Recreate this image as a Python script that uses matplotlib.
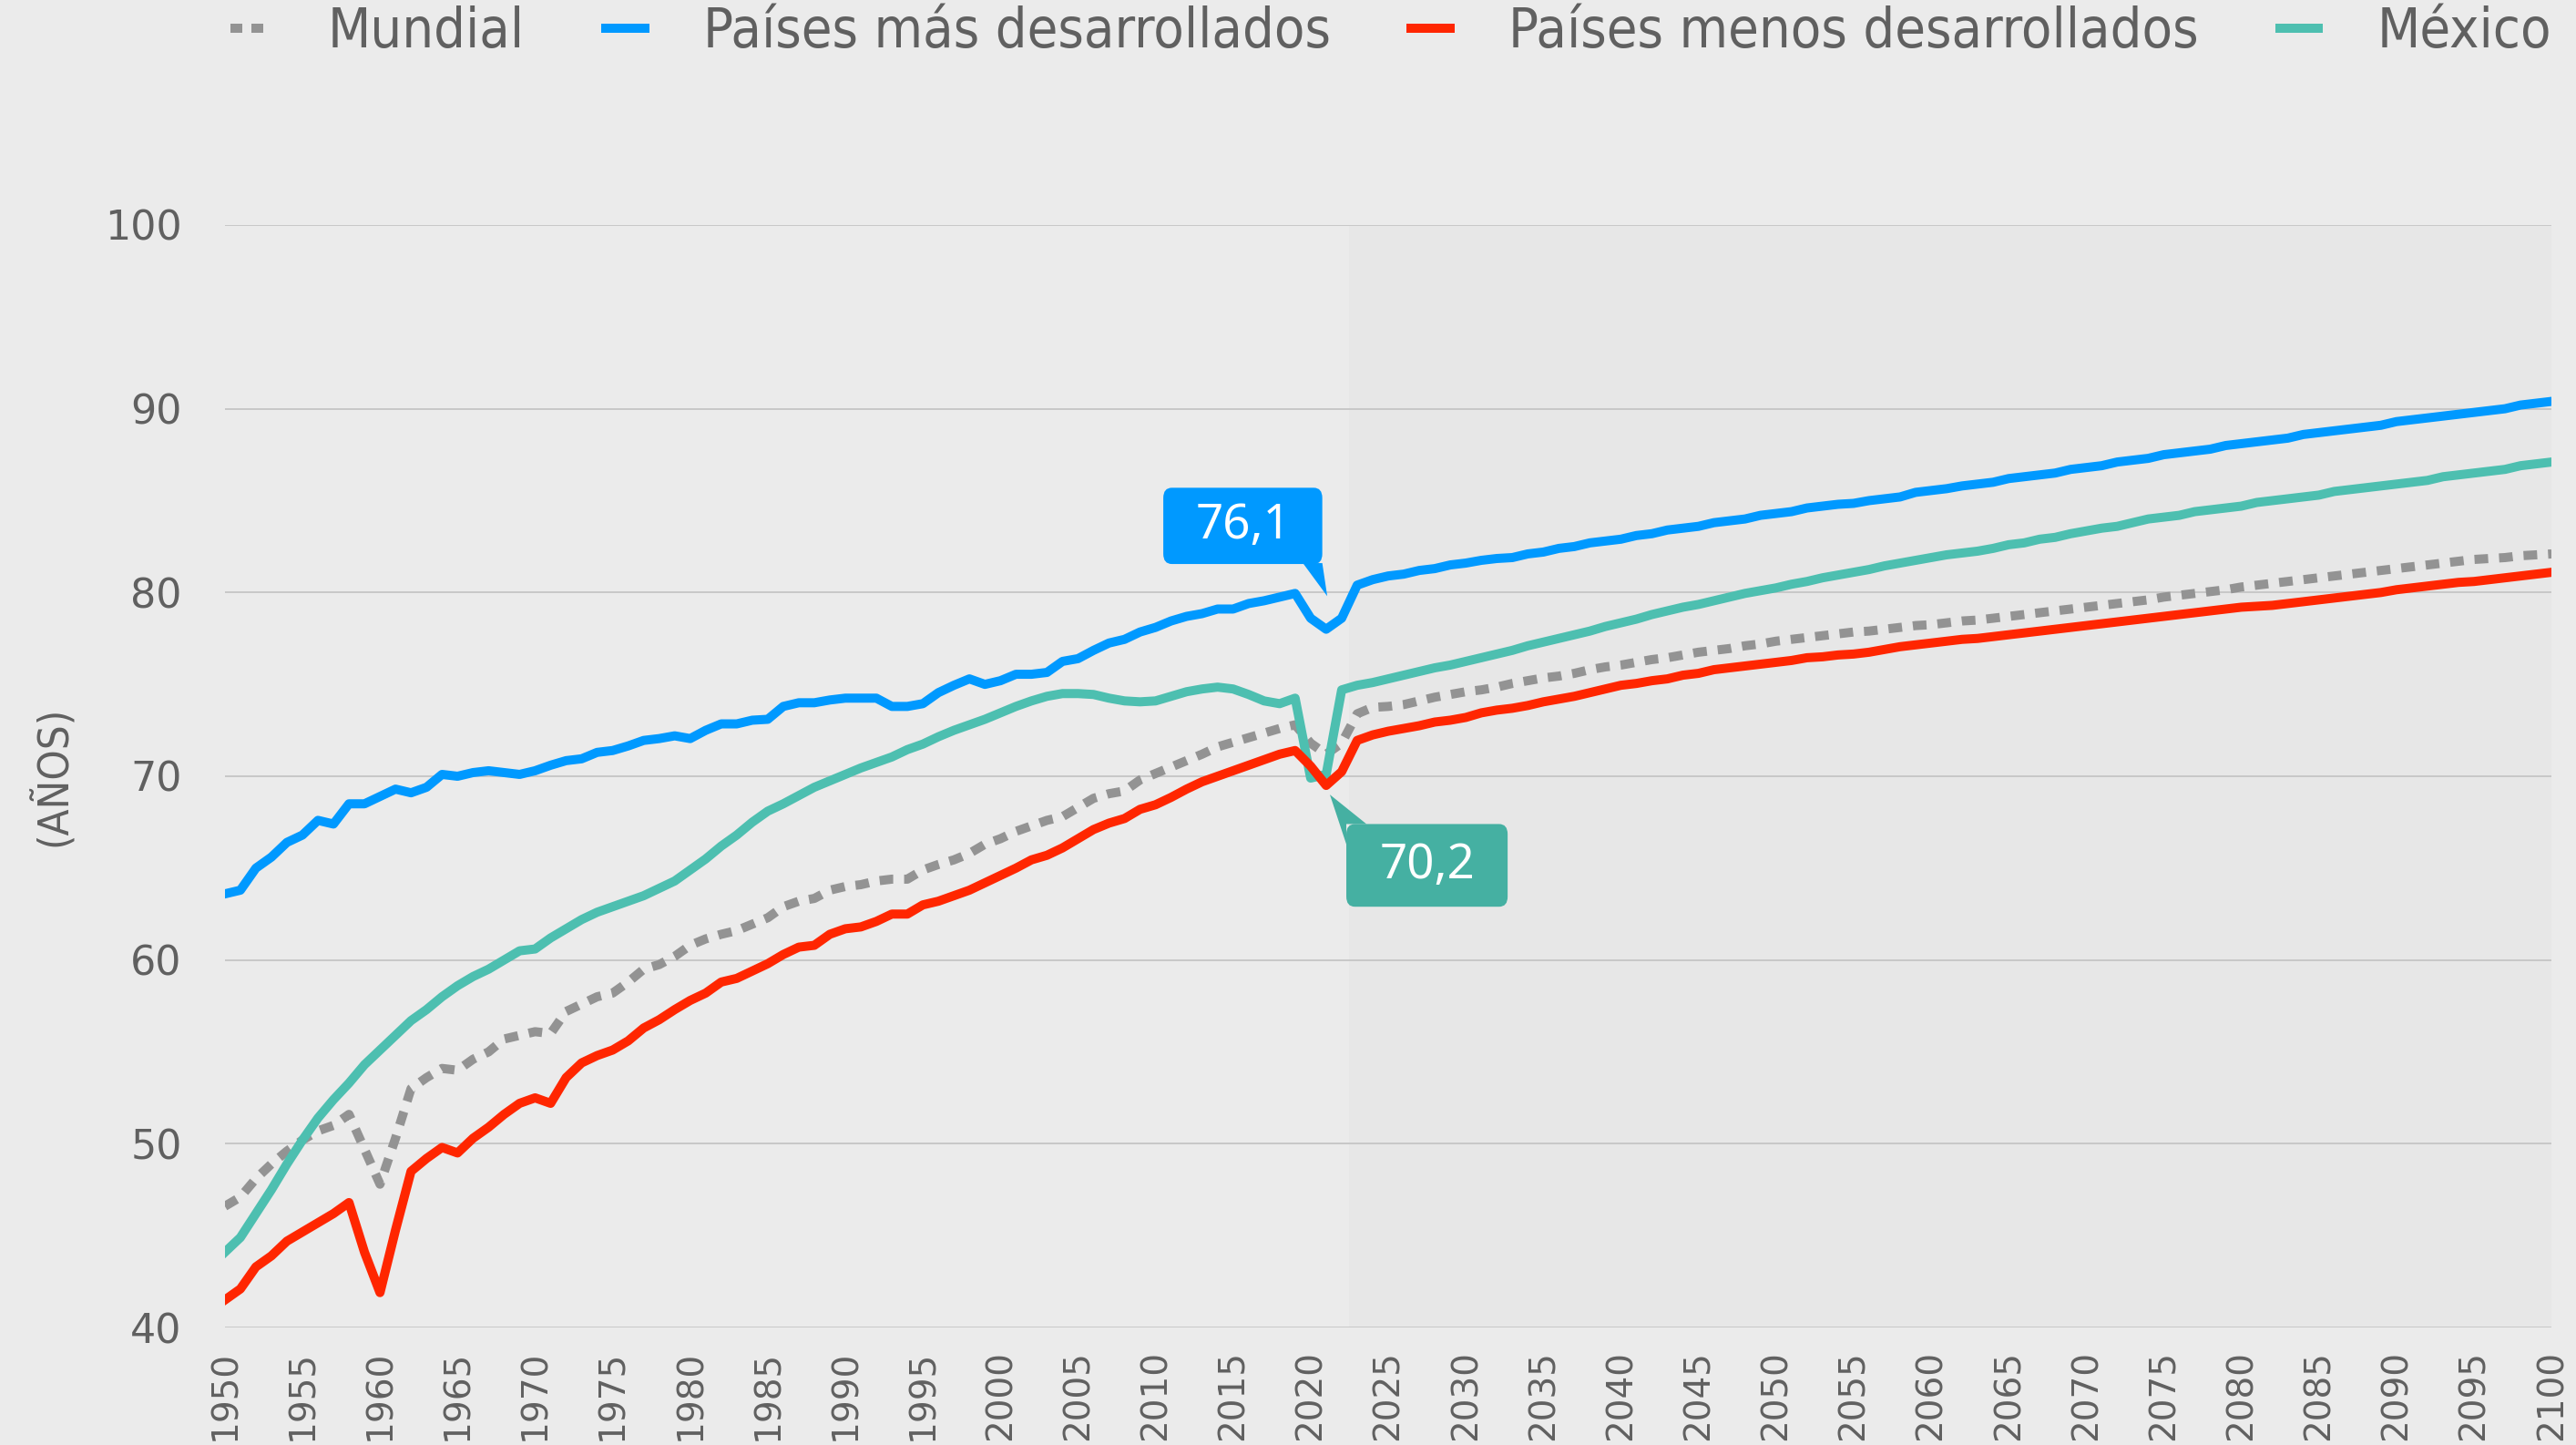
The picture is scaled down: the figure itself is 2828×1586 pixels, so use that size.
import matplotlib
matplotlib.use("Agg")
import matplotlib.pyplot as plt
from matplotlib.font_manager import FontProperties, findfont
from matplotlib.lines import Line2D
from matplotlib.patches import FancyBboxPatch, Polygon

# años 1950-2100
years = list(range(1950, 2101))

mundial = [
    46.6, 47.1, 48.1, 48.9, 49.6, 50.2, 50.7, 51.0, 51.6, 49.7,
    47.8, 50.3, 53.0, 53.6, 54.1, 54.0, 54.6, 55.0, 55.7, 55.9,
    56.1, 56.0, 57.2, 57.6, 58.0, 58.2, 58.8, 59.5, 59.75, 60.2,
    60.8, 61.15, 61.4, 61.6, 61.95, 62.3, 62.9, 63.2, 63.35, 63.8,
    64.0, 64.1, 64.3, 64.4, 64.4, 64.9, 65.2, 65.45, 65.8, 66.3,
    66.6, 67.0, 67.3, 67.6, 67.8, 68.3, 68.8, 69.05, 69.2, 69.8,
    70.15, 70.5, 70.85, 71.2, 71.6, 71.85, 72.1, 72.35, 72.6, 72.8,
    71.8, 71.2, 71.8, 73.4, 73.75, 73.8, 73.9, 74.1, 74.3, 74.45,
    74.6, 74.7, 74.85, 75.05, 75.2, 75.35, 75.45, 75.6, 75.8, 75.95,
    76.05, 76.2, 76.35, 76.45, 76.6, 76.75, 76.85, 76.95, 77.1, 77.2,
    77.35, 77.45, 77.55, 77.65, 77.75, 77.85, 77.9, 78.0, 78.1, 78.2,
    78.25, 78.35, 78.45, 78.5, 78.6, 78.7, 78.8, 78.9, 79.0, 79.1,
    79.2, 79.3, 79.4, 79.5, 79.6, 79.75, 79.85, 79.95, 80.05, 80.15,
    80.3, 80.4, 80.5, 80.6, 80.7, 80.8, 80.9, 81.0, 81.1, 81.2,
    81.3, 81.4, 81.5, 81.6, 81.7, 81.8, 81.85, 81.9, 82.0, 82.05,
    82.1,
]

mas_desarrollados = [
    63.6, 63.8, 65.0, 65.6, 66.4, 66.8, 67.6, 67.4, 68.5, 68.5,
    68.9, 69.3, 69.1, 69.4, 70.1, 70.0, 70.2, 70.3, 70.2, 70.1,
    70.3, 70.6, 70.85, 70.95, 71.3, 71.4, 71.65, 71.95, 72.05, 72.2,
    72.05, 72.5, 72.85, 72.85, 73.05, 73.1, 73.8, 74.0, 74.0, 74.15,
    74.25, 74.25, 74.25, 73.8, 73.8, 73.95, 74.55, 74.95, 75.3, 75.0,
    75.2, 75.55, 75.55, 75.65, 76.25, 76.4, 76.85, 77.25, 77.45, 77.85,
    78.1, 78.45, 78.7, 78.85, 79.1, 79.1, 79.4, 79.55, 79.75, 79.95,
    78.6, 78.0, 78.6, 80.4, 80.7, 80.9, 81.0, 81.2, 81.3, 81.5,
    81.6, 81.75, 81.85, 81.9, 82.1, 82.2, 82.4, 82.5, 82.7, 82.8,
    82.9, 83.1, 83.2, 83.4, 83.5, 83.6, 83.8, 83.9, 84.0, 84.2,
    84.3, 84.4, 84.6, 84.7, 84.8, 84.85, 85.0, 85.1, 85.2, 85.45,
    85.55, 85.65, 85.8, 85.9, 86.0, 86.2, 86.3, 86.4, 86.5, 86.7,
    86.8, 86.9, 87.1, 87.2, 87.3, 87.5, 87.6, 87.7, 87.8, 88.0,
    88.1, 88.2, 88.3, 88.4, 88.6, 88.7, 88.8, 88.9, 89.0, 89.1,
    89.3, 89.4, 89.5, 89.6, 89.7, 89.8, 89.9, 90.0, 90.2, 90.3,
    90.4,
]

menos_desarrollados = [
    41.5, 42.1, 43.3, 43.9, 44.7, 45.2, 45.7, 46.2, 46.8, 44.1,
    41.9, 45.3, 48.5, 49.2, 49.8, 49.5, 50.3, 50.9, 51.6, 52.2,
    52.5, 52.2, 53.6, 54.4, 54.8, 55.1, 55.6, 56.3, 56.75, 57.3,
    57.8, 58.2, 58.8, 59.0, 59.4, 59.8, 60.3, 60.7, 60.8, 61.4,
    61.7, 61.8, 62.1, 62.5, 62.5, 63.0, 63.2, 63.5, 63.8, 64.2,
    64.6, 65.0, 65.45, 65.7, 66.1, 66.6, 67.1, 67.45, 67.7, 68.2,
    68.45, 68.85, 69.3, 69.7, 70.0, 70.3, 70.6, 70.9, 71.2, 71.4,
    70.55, 69.5, 70.25, 71.95, 72.25, 72.45, 72.6, 72.75, 72.95, 73.05,
    73.2, 73.45, 73.6, 73.7, 73.85, 74.05, 74.2, 74.35, 74.55, 74.75,
    74.95, 75.05, 75.2, 75.3, 75.5, 75.6, 75.8, 75.9, 76.0, 76.1,
    76.2, 76.3, 76.45, 76.5, 76.6, 76.65, 76.75, 76.9, 77.05, 77.15,
    77.25, 77.35, 77.45, 77.5, 77.6, 77.7, 77.8, 77.9, 78.0, 78.1,
    78.2, 78.3, 78.4, 78.5, 78.6, 78.7, 78.8, 78.9, 79.0, 79.1,
    79.2, 79.25, 79.3, 79.4, 79.5, 79.6, 79.7, 79.8, 79.9, 80.0,
    80.15, 80.25, 80.35, 80.45, 80.55, 80.6, 80.7, 80.8, 80.9, 81.0,
    81.1,
]

mexico = [
    44.1, 44.9, 46.2, 47.5, 48.9, 50.2, 51.4, 52.4, 53.3, 54.3,
    55.1, 55.9, 56.7, 57.3, 58.0, 58.6, 59.1, 59.5, 60.0, 60.5,
    60.6, 61.2, 61.7, 62.2, 62.6, 62.9, 63.2, 63.5, 63.9, 64.3,
    64.9, 65.5, 66.2, 66.8, 67.5, 68.1, 68.5, 68.95, 69.4, 69.75,
    70.1, 70.45, 70.75, 71.05, 71.45, 71.75, 72.15, 72.5, 72.8, 73.1,
    73.45, 73.8, 74.1, 74.35, 74.5, 74.5, 74.45, 74.25, 74.1, 74.05,
    74.1, 74.35, 74.6, 74.75, 74.85, 74.75, 74.45, 74.1, 73.95, 74.25,
    69.9, 70.1, 74.7, 74.95, 75.1, 75.3, 75.5, 75.7, 75.9, 76.05,
    76.25, 76.45, 76.65, 76.85, 77.1, 77.3, 77.5, 77.7, 77.9, 78.15,
    78.35, 78.55, 78.8, 79.0, 79.2, 79.35, 79.55, 79.75, 79.95, 80.1,
    80.25, 80.45, 80.6, 80.8, 80.95, 81.1, 81.25, 81.45, 81.6, 81.75,
    81.9, 82.05, 82.15, 82.25, 82.4, 82.6, 82.7, 82.9, 83.0, 83.2,
    83.35, 83.5, 83.6, 83.8, 84.0, 84.1, 84.2, 84.4, 84.5, 84.6,
    84.7, 84.9, 85.0, 85.1, 85.2, 85.3, 85.5, 85.6, 85.7, 85.8,
    85.9, 86.0, 86.1, 86.3, 86.4, 86.5, 86.6, 86.7, 86.9, 87.0,
    87.1,
]

labels = ["Mundial", "Países más desarrollados", "Países menos desarrollados", "México"]
etiqueta_mas = "76,1"
etiqueta_mex = "70,2"
inicio_proyeccion = 2022.5

GRIS = "#939393"
AZUL = "#0099FF"
ROJO = "#FF2600"
VERDE = "#4DBFB0"
VERDE_CAJA = "#45B0A2"
TEXTO = "#606060"
FONDO = "#EBEBEB"


def fuente_condensada(size):
    # buscar una fuente angosta, si no hay usar DejaVu normal
    fp = FontProperties(family="DejaVu Sans", stretch="condensed", size=size)
    if "Condensed" in findfont(fp):
        return fp
    try:
        fp2 = FontProperties(family="Liberation Sans Narrow", size=size)
        findfont(fp2, fallback_to_default=False)
        return fp2
    except Exception:
        return FontProperties(family="DejaVu Sans", size=size)


fig = plt.figure(figsize=(14.14, 7.93), dpi=200, facecolor=FONDO)
ax = fig.add_axes([0.0873, 0.0813, 0.9032, 0.763])
ax.set_facecolor(FONDO)

ax.axvspan(inicio_proyeccion, 2100, color="#E7E7E7", zorder=0, lw=0)

lw = 3.6
ax.plot(years, mundial, color=GRIS, lw=lw, dashes=(1.5, 1.2), zorder=3)
ax.plot(years, mas_desarrollados, color=AZUL, lw=lw, zorder=4)
ax.plot(years, menos_desarrollados, color=ROJO, lw=lw, zorder=5)
ax.plot(years, mexico, color=VERDE, lw=lw, zorder=4)

ax.set_xlim(1950, 2100)
ax.set_ylim(40, 100)
ax.set_yticks(range(40, 101, 10))
ax.set_xticks(range(1950, 2101, 5))
ax.grid(axis="y", color="#C8C8C8", lw=0.7, zorder=1)
ax.set_axisbelow(True)
for s in ax.spines.values():
    s.set_visible(False)
ax.tick_params(axis="y", length=0, pad=17, labelsize=16, labelcolor=TEXTO)
ax.tick_params(axis="x", length=0, pad=9, labelsize=14, labelcolor=TEXTO, labelrotation=90)

fig.text(0.0205, 0.463, "(AÑOS)", rotation=90, ha="center", va="center",
         color=TEXTO, fontproperties=fuente_condensada(17))

# recuadros de etiquetas
i2021 = years.index(2021)
caja = FancyBboxPatch((2010.5, 81.55), 10.25, 4.15, boxstyle="round,pad=0,rounding_size=0.55",
                      fc=AZUL, ec="none", zorder=8)
ax.add_patch(caja)
ax.add_patch(Polygon([(2019.5, 81.6), (2020.75, 81.6), (2021.07, mas_desarrollados[i2021] + 1.8)],
                     closed=True, fc=AZUL, ec="none", zorder=8))
ax.text(2015.65, 83.6, etiqueta_mas, color="white", fontsize=19, family="Noto Sans",
        ha="center", va="center", zorder=9)

caja2 = FancyBboxPatch((2022.3, 62.9), 10.4, 4.5, boxstyle="round,pad=0,rounding_size=0.55",
                       fc=VERDE_CAJA, ec="none", zorder=8)
ax.add_patch(caja2)
ax.add_patch(Polygon([(2022.3, 66.3), (2021.24, mexico[i2021] - 1.1), (2023.6, 67.4), (2022.3, 67.4)],
                     closed=True, fc=VERDE_CAJA, ec="none", zorder=8))
ax.text(2027.5, 65.1, etiqueta_mex, color="white", fontsize=19, family="Noto Sans",
        ha="center", va="center", zorder=9)

# leyenda
handles = [
    Line2D([], [], color=GRIS, lw=lw, dashes=(1.3, 1.0)),
    Line2D([], [], color=AZUL, lw=lw),
    Line2D([], [], color=ROJO, lw=lw),
    Line2D([], [], color=VERDE, lw=lw),
]
leg = fig.legend(handles, labels, ncol=4, loc="upper right", bbox_to_anchor=(0.9905, 0.996),
                 frameon=False, prop=fuente_condensada(22), handlelength=0.7,
                 handletextpad=1.05, columnspacing=1.45, borderpad=0, borderaxespad=0)
for t in leg.get_texts():
    t.set_color(TEXTO)

fig.savefig("out.png", dpi=200, facecolor=FONDO)
